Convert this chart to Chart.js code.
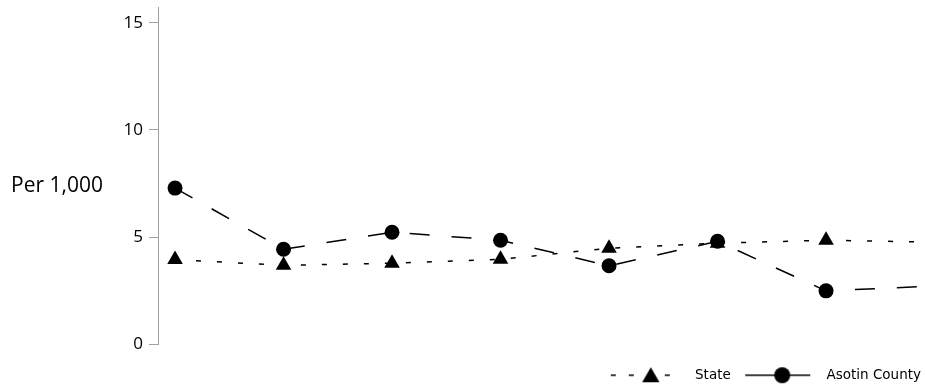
<!DOCTYPE html>
<html>
<head>
<meta charset="utf-8">
<script src="https://cdn.jsdelivr.net/npm/chart.js@4"></script>
<style>
  body { margin: 0; background: #fff; }
  #wrap { width: 925px; height: 386px; }
</style>
</head>
<body>
<div id="wrap"><canvas id="myChart" width="925" height="386"></canvas></div>
<script>
// Data (rate per 1,000), one value per period
const periods = [0, 1, 2, 3, 4, 5, 6, 7];
const stateRates = [3.96, 3.69, 3.79, 3.97, 4.49, 4.72, 4.86, 4.77];
const countyRates = [7.29, 4.44, 5.23, 4.86, 3.67, 4.81, 2.50, 2.73];
const seriesNames = ["State", "Asotin County"];
const yTicks = [0, 5, 10, 15];
const yTitle = "Per 1,000";

// Legend samples: line style + marker drawn on a small canvas
function makeSample(kind) {
  let c = document.createElement('canvas');
  c.width = 72; c.height = 22;
  let g = c.getContext('2d');
  g.strokeStyle = '#000';
  g.fillStyle = '#000';
  g.lineWidth = 1.5;
  g.beginPath();
  if (kind === 'state') {
    g.setLineDash([5, 13]);
    g.moveTo(1, 11); g.lineTo(71, 11);
  } else {
    g.moveTo(4, 11); g.lineTo(69, 11);
  }
  g.stroke();
  g.setLineDash([]);
  g.beginPath();
  if (kind === 'state') {
    let r = 10, cx = 41, cy = 13;
    g.moveTo(cx, cy - r);
    g.lineTo(cx + r * Math.sin(2 * Math.PI / 3), cy + r / 2);
    g.lineTo(cx - r * Math.sin(2 * Math.PI / 3), cy + r / 2);
    g.closePath();
  } else {
    g.arc(41, 11, 8, 0, Math.PI * 2);
  }
  g.fill();
  return c;
}
const samples = [makeSample('state'), makeSample('county')];

// y axis caption drawn horizontally
const yTitlePlugin = {
  id: 'yTitle',
  afterDraw(chart) {
    let ctx = chart.ctx;
    ctx.save();
    ctx.font = '21px "Open Sans"';
    ctx.fillStyle = '#000';
    ctx.textAlign = 'left';
    ctx.textBaseline = 'middle';
    ctx.fillText(yTitle, 11, 186);
    ctx.restore();
  }
};

let ctx = document.getElementById('myChart').getContext('2d');
let myChart = new Chart(ctx, {
  type: 'line',
  data: {
    datasets: [
      {
        label: seriesNames[0],
        data: periods.map((p, i) => ({ x: p, y: stateRates[i] })),
        borderColor: '#000',
        backgroundColor: '#000',
        borderWidth: 1.5,
        borderDash: [5, 16],
        pointStyle: 'triangle',
        pointRadius: 9,
        pointBorderWidth: 0,
        fill: false,
        tension: 0
      },
      {
        label: seriesNames[1],
        data: periods.map((p, i) => ({ x: p, y: countyRates[i] })),
        borderColor: '#000',
        backgroundColor: '#000',
        borderWidth: 1.5,
        borderDash: [20, 22],
        pointStyle: 'circle',
        pointRadius: 7.5,
        pointBorderWidth: 0,
        fill: false,
        tension: 0
      }
    ]
  },
  options: {
    responsive: false,
    animation: false,
    events: [],
    layout: { autoPadding: false, padding: { top: 0, right: 0, bottom: -6, left: 0 } },
    plugins: {
      tooltip: { enabled: false },
      legend: {
        position: 'bottom',
        align: 'end',
        labels: {
          usePointStyle: true,
          pointStyleWidth: 85,
          padding: 4,
          color: '#000',
          font: { family: '"DejaVu Sans"', size: 13.5 },
          generateLabels(chart) {
            return chart.data.datasets.map((ds, i) => ({
              text: ds.label,
              pointStyle: samples[i],
              fillStyle: '#000',
              strokeStyle: '#000',
              lineWidth: 0,
              fontColor: '#000',
              hidden: false,
              datasetIndex: i
            }));
          }
        }
      }
    },
    scales: {
      x: {
        type: 'linear',
        min: -0.157,
        max: 6.912,
        display: true,
        grid: { display: false },
        border: { display: false },
        ticks: { display: false },
        afterFit(s) { s.height = 20; }
      },
      y: {
        min: 0,
        max: 15.7,
        afterFit(s) { s.width = 158; },
        afterBuildTicks(s) {
          s.ticks = yTicks.map(v => ({ value: v }));
        },
        grid: {
          drawOnChartArea: false,
          drawTicks: true,
          tickLength: 9,
          color: '#a0a0a0',
          lineWidth: 1
        },
        border: { display: true, color: '#a0a0a0', width: 1 },
        ticks: {
          padding: 6,
          color: '#000',
          font: { family: '"Open Sans"', size: 17, lineHeight: 0.2 }
        }
      }
    }
  },
  plugins: [yTitlePlugin]
});
</script>
</body>
</html>
